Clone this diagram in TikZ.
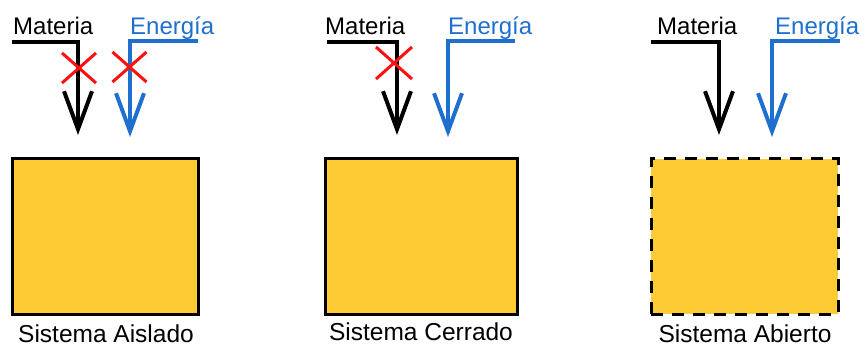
\documentclass[tikz,border=0pt]{standalone}
\usepackage{fontspec}
\setmainfont{Liberation Sans}
\usetikzlibrary{arrows.meta,calc}
\definecolor{sysyellow}{HTML}{FDCB33}
\definecolor{enblue}{HTML}{1F6FCF}
\definecolor{xred}{HTML}{FF1010}
\tikzset{
  toplbl/.style={font=\fontsize{24}{27}\selectfont, inner sep=0pt, anchor=base west},
  botlbl/.style={font=\fontsize{24.5}{28}\selectfont, inner sep=0pt, text depth=0pt, anchor=base},
  sysbox/.style={draw=black, line width=3pt, fill=sysyellow, inner sep=0pt},
  openbox/.style={sysbox, dash pattern=on 12pt off 9pt},
  matarrow/.style={draw=black, line width=3.5pt, -{Straight Barb[length=38pt,width=28pt,line width=4pt]}},
  enarrow/.style={draw=enblue, line width=3.5pt, -{Straight Barb[length=38pt,width=28pt,line width=4pt]}},
  cross/.style={draw=xred, line width=3pt},
}
\begin{document}
\begin{tikzpicture}[x=1pt,y=-1pt]
\useasboundingbox (0,0) rectangle (866,347);
% boxes
\node[sysbox, minimum width=186pt, minimum height=155pt] (b1) at (105,236.5) {};
\node[sysbox, minimum width=192pt, minimum height=155pt] (b2) at (421.5,236.5) {};
\node[openbox, minimum width=187pt, minimum height=155pt] (b3) at (744.5,236.5) {};
% labels
\node[botlbl] (l1) at (106,342) {Sistema Aislado};
\node[botlbl] (l2) at (421,340) {Sistema Cerrado};
\node[botlbl] (l3) at (745,342.5) {Sistema Abierto};
% system 1
\node[toplbl] (m1) at (13,35) {Materia};
\node[toplbl, text=enblue] (e1) at (130,35) {Energía};
\coordinate (m1a) at (12,42); \coordinate (m1b) at (78,42); \coordinate (m1c) at (78,135);
\coordinate (e1a) at (198,41); \coordinate (e1b) at (130,41); \coordinate (e1c) at (130,137);
\draw[matarrow] (m1a) -- (m1b) -- (m1c);
\draw[enarrow] (e1a) -- (e1b) -- (e1c);
\coordinate (x1) at (79,68); \coordinate (x2) at (129.5,67);
\draw[cross] ($(x1)+(-17,-15)$) -- ($(x1)+(17,15)$) ($(x1)+(-17,15)$) -- ($(x1)+(17,-15)$);
\draw[cross] ($(x2)+(-17,-15)$) -- ($(x2)+(17,15)$) ($(x2)+(-17,15)$) -- ($(x2)+(17,-15)$);
% system 2
\node[toplbl] (m2) at (325,35) {Materia};
\node[toplbl, text=enblue] (e2) at (448,35) {Energía};
\coordinate (m2a) at (327,42); \coordinate (m2b) at (397,42); \coordinate (m2c) at (397,135);
\coordinate (e2a) at (515,41); \coordinate (e2b) at (448,41); \coordinate (e2c) at (448,137);
\draw[matarrow] (m2a) -- (m2b) -- (m2c);
\draw[enarrow] (e2a) -- (e2b) -- (e2c);
\coordinate (x3) at (394,63);
\draw[cross] ($(x3)+(-18,-16)$) -- ($(x3)+(18,16)$) ($(x3)+(-18,16)$) -- ($(x3)+(18,-16)$);
% system 3
\node[toplbl] (m3) at (657,35) {Materia};
\node[toplbl, text=enblue] (e3) at (775,35) {Energía};
\coordinate (m3a) at (651,42); \coordinate (m3b) at (719,42); \coordinate (m3c) at (719,135);
\coordinate (e3a) at (840,41); \coordinate (e3b) at (772,41); \coordinate (e3c) at (772,137);
\draw[matarrow] (m3a) -- (m3b) -- (m3c);
\draw[enarrow] (e3a) -- (e3b) -- (e3c);
\end{tikzpicture}
\end{document}
